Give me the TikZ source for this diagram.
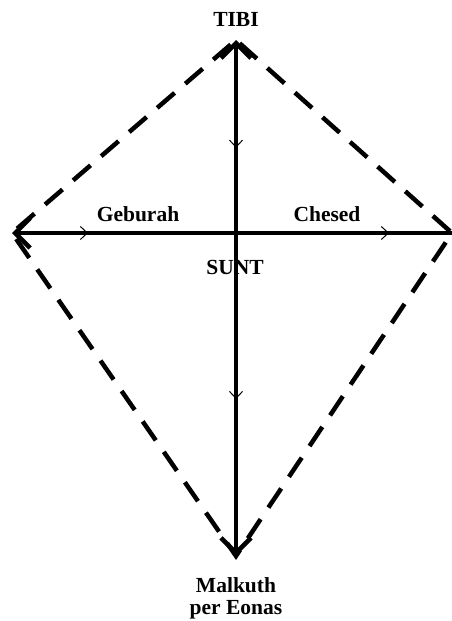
\documentclass[tikz,border=0pt]{standalone}
\usepackage{fontspec}
\setmainfont{Liberation Serif}
\usetikzlibrary{arrows.meta,decorations.markings}
\begin{document}
\begin{tikzpicture}[x=1pt,y=-1pt,
  lbl/.style={font=\fontsize{21.5}{22}\selectfont\bfseries, inner sep=0pt, anchor=base},
  axisline/.style={line width=4.5pt},
  kite/.style={line width=4.5pt, dash pattern=on 23pt off 14pt, dash phase=30pt},
  bigtip/.tip={Straight Barb[length=15pt,width=30pt]},
  smalltip/.tip={Straight Barb[length=7pt,width=13pt,line width=1pt]},
]
\useasboundingbox (0,0) rectangle (452,621);
\coordinate (T) at (236,40);
\coordinate (L) at (12,233);
\coordinate (R) at (452,233);
\coordinate (B) at (236,556);
\coordinate (C) at (236,233);

\node[lbl] (tibi) at (236,26) {TIBI};
\node[lbl] (geb) at (138,221) {Geburah};
\node[lbl] (che) at (327,221) {Chesed};
\node[lbl] (sunt) at (235,274) {SUNT};
\node[lbl] (malk) at (236,592) {Malkuth};
\node[lbl] (eon) at (236,614) {per Eonas};

\draw[kite] (T) -- (L) -- (B) -- (R) -- cycle;
\draw[axisline, bigtip-bigtip] (T) -- (B);
\draw[axisline, bigtip-] (L) -- (R);
\path[decoration={markings,
   mark=at position 0.209 with {\arrow{smalltip}},
   mark=at position 0.696 with {\arrow{smalltip}}}, decorate] (T) -- (B);
\path[decoration={markings,
   mark=at position 0.173 with {\arrow{smalltip}},
   mark=at position 0.857 with {\arrow{smalltip}}}, decorate] (L) -- (R);
\end{tikzpicture}
\end{document}
